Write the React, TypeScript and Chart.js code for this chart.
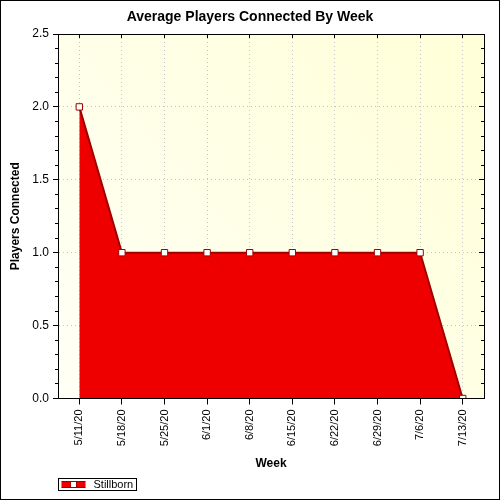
import React, { useEffect, useRef } from 'react';
import { Chart, registerables } from 'chart.js';

Chart.register(...registerables);

const weeks = ['5/11/20', '5/18/20', '5/25/20', '6/1/20', '6/8/20', '6/15/20', '6/22/20', '6/29/20', '7/6/20', '7/13/20'];
const stillborn = [2, 1, 1, 1, 1, 1, 1, 1, 1, 0];
const yMax = 2.5;
const majorStep = 0.5;
const minorStep = 0.1;

const FONT = "'Liberation Sans', Arial, sans-serif";
const FILL_RED = '#ee0000';
const LINE_RED = '#a00000';
const GRID_GREY = '#c4c4c4';

Chart.defaults.font.family = FONT;
Chart.defaults.color = '#000';

// plot background, outer frame and the boxed legend under the x axis
const framePlugin = {
  id: 'frame',
  beforeDraw: (chart: Chart) => {
    const { ctx, chartArea: a, width, height } = chart;
    ctx.save();
    ctx.fillStyle = '#fff';
    ctx.fillRect(0, 0, width, height);
    const g = ctx.createLinearGradient(a.left, a.bottom, a.right, a.top);
    g.addColorStop(0, '#fffff6');
    g.addColorStop(1, '#ffffd8');
    ctx.fillStyle = g;
    ctx.fillRect(a.left, a.top, a.right - a.left, a.bottom - a.top);
    ctx.restore();
  },
  afterDraw: (chart: Chart) => {
    const { ctx, width, height } = chart;
    const ds = chart.data.datasets[0] as any;
    ctx.save();
    ctx.strokeStyle = '#000';
    ctx.lineWidth = 1;
    ctx.strokeRect(0.5, 0.5, width - 1, height - 1);

    const bx = Math.round(chart.chartArea.left) + 0.5;
    const by = 478.5;
    ctx.strokeRect(bx, by, 78, 12);
    // icon: filled band with the point marker in the middle
    ctx.fillStyle = ds.backgroundColor;
    ctx.fillRect(bx + 3, by + 3, 24, 6);
    ctx.strokeStyle = ds.borderColor;
    ctx.beginPath();
    ctx.moveTo(bx + 3, by + 3);
    ctx.lineTo(bx + 27, by + 3);
    ctx.moveTo(bx + 3, by + 9);
    ctx.lineTo(bx + 27, by + 9);
    ctx.stroke();
    ctx.fillStyle = ds.pointBackgroundColor;
    ctx.fillRect(bx + 12, by + 3, 6, 6);
    ctx.strokeStyle = ds.pointBorderColor;
    ctx.strokeRect(bx + 12, by + 3, 6, 6);

    ctx.fillStyle = '#000';
    ctx.font = `11px ${FONT}`;
    ctx.textBaseline = 'middle';
    ctx.textAlign = 'left';
    ctx.fillText(ds.label, bx + 35, by + 6.5);
    ctx.restore();
  },
};

const App: React.FC = () => {
  const chartRef = useRef<HTMLCanvasElement>(null);
  const chartInstanceRef = useRef<Chart | null>(null);

  useEffect(() => {
    if (!chartRef.current) return;
    if (chartInstanceRef.current) chartInstanceRef.current.destroy();

    chartInstanceRef.current = new Chart(chartRef.current, {
      type: 'line',
      data: {
        labels: weeks,
        datasets: [
          {
            label: 'Stillborn',
            data: stillborn,
            borderColor: LINE_RED,
            borderWidth: 2,
            backgroundColor: FILL_RED,
            fill: 'origin',
            tension: 0,
            pointStyle: 'rect',
            pointRadius: 4.5,
            pointBackgroundColor: '#fff',
            pointBorderColor: LINE_RED,
            pointBorderWidth: 1,
          },
        ],
      },
      options: {
        responsive: false,
        animation: false,
        layout: { padding: 0 },
        plugins: {
          legend: { display: false },
          tooltip: { enabled: false },
          title: {
            display: true,
            text: 'Average Players Connected By Week',
            color: '#000',
            font: { size: 14, weight: 'bold', lineHeight: '16px' },
            padding: { top: 9, bottom: 0 },
          },
        },
        scales: {
          x: {
            type: 'category',
            position: 'bottom',
            offset: true,
            ticks: { autoSkip: false, minRotation: 90, maxRotation: 90, color: '#000', font: { size: 11 }, padding: 5 },
            grid: { color: GRID_GREY, tickColor: '#000', tickLength: 6 },
            border: { color: '#000', dash: [1, 3], z: 1 },
            title: { display: true, text: 'Week', color: '#000', font: { size: 12, weight: 'bold' }, padding: { top: 0, bottom: 29 } },
            afterFit: (s: any) => { s.height = 101.5; },
          },
          xTop: {
            type: 'category',
            axis: 'x',
            position: 'top',
            offset: true,
            ticks: { display: false },
            grid: { drawOnChartArea: false, tickColor: '#000', tickLength: -4 },
            border: { color: '#000', z: 1 },
            afterFit: (s: any) => { s.height = 9; },
          },
          y: {
            type: 'linear',
            position: 'left',
            min: 0,
            max: yMax,
            ticks: { stepSize: majorStep, color: '#000', font: { size: 12 }, padding: 4, callback: (v: any) => Number(v).toFixed(1) },
            grid: { color: GRID_GREY, tickColor: '#000', tickLength: 5 },
            border: { color: '#000', dash: [1, 3], z: 1 },
            title: { display: true, text: 'Players Connected', color: '#000', font: { size: 12, weight: 'bold' }, padding: { top: 8, bottom: 0 } },
            afterFit: (s: any) => { s.width = 58; },
          },
          yMinor: {
            type: 'linear',
            axis: 'y',
            position: 'left',
            weight: -1,
            min: 0,
            max: yMax,
            ticks: { stepSize: minorStep, display: false },
            grid: { drawOnChartArea: false, tickColor: '#000', tickLength: 3 },
            border: { display: false },
            afterFit: (s: any) => { s.width = 0; },
          },
          yRight: {
            type: 'linear',
            axis: 'y',
            position: 'right',
            min: 0,
            max: yMax,
            ticks: { stepSize: majorStep, display: false },
            grid: { drawOnChartArea: false, tickColor: '#000', tickLength: -5 },
            border: { color: '#000', z: 1 },
            afterFit: (s: any) => { s.width = 16; },
          },
          yRightMinor: {
            type: 'linear',
            axis: 'y',
            position: 'right',
            weight: -1,
            min: 0,
            max: yMax,
            ticks: { stepSize: minorStep, display: false },
            grid: { drawOnChartArea: false, tickColor: '#000', tickLength: -3 },
            border: { display: false },
            afterFit: (s: any) => { s.width = 0; },
          },
        },
      } as any,
      plugins: [framePlugin],
    });

    return () => {
      if (chartInstanceRef.current) {
        chartInstanceRef.current.destroy();
        chartInstanceRef.current = null;
      }
    };
  }, []);

  return (
    <div style={{ position: 'absolute', left: 0, top: 0, width: 500, height: 500 }}>
      <canvas ref={chartRef} width={500} height={500} style={{ display: 'block' }}></canvas>
    </div>
  );
};

export default App;
